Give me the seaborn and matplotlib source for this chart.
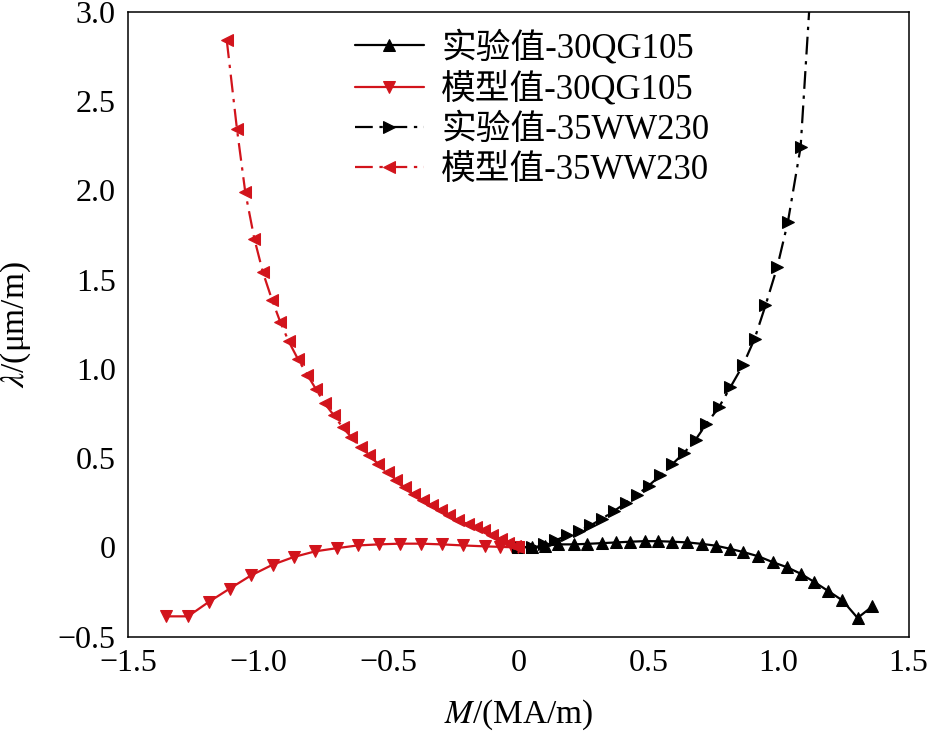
import numpy as np
import pandas as pd
import matplotlib
matplotlib.use('Agg')
import matplotlib.pyplot as plt
import seaborn as sns

# --- data
# experiment, 30QG105 (black, up triangles, solid)
exp_qg_x = [0.0, 0.053, 0.104, 0.154, 0.212, 0.265, 0.323, 0.377, 0.431, 0.485, 0.538,
            0.592, 0.650, 0.704, 0.758, 0.812, 0.865, 0.923, 0.977, 1.031, 1.085, 1.138,
            1.192, 1.246, 1.304, 1.361]
exp_qg_y = [0.0, 0.002, 0.010, 0.017, 0.017, 0.020, 0.024, 0.028, 0.032, 0.035, 0.035,
            0.032, 0.028, 0.020, 0.010, -0.007, -0.026, -0.050, -0.082, -0.110, -0.147, -0.194,
            -0.245, -0.297, -0.395, -0.330]

# model, 30QG105 (red, down triangles, solid)
mod_qg_x = [-1.354, -1.270, -1.191, -1.110, -1.028, -0.945, -0.864, -0.781, -0.697, -0.618,
            -0.537, -0.456, -0.373, -0.294, -0.211, -0.130, -0.070, -0.025, 0.0]
mod_qg_y = [-0.386, -0.386, -0.306, -0.231, -0.157, -0.097, -0.054, -0.022, -0.004, 0.011,
            0.017, 0.021, 0.021, 0.017, 0.011, 0.006, 0.003, 0.001, 0.0]

# experiment, 35WW230 (black, right triangles, dash-dot); last point is where the line leaves the frame
exp_ww_x = [0.0, 0.053, 0.097, 0.142, 0.187, 0.232, 0.277, 0.322, 0.367, 0.412, 0.457, 0.501,
            0.546, 0.591, 0.636, 0.681, 0.723, 0.771, 0.815, 0.863, 0.908, 0.950, 0.995, 1.036,
            1.085, 1.122]
exp_ww_y = [0.0, 0.004, 0.017, 0.039, 0.067, 0.091, 0.123, 0.161, 0.203, 0.248, 0.295, 0.346,
            0.403, 0.465, 0.528, 0.603, 0.692, 0.785, 0.897, 1.019, 1.168, 1.355, 1.570, 1.822,
            2.242, 3.10]

# model, 35WW230 (red, left triangles, dash-dot)
mod_ww_x = [-1.121, -1.082, -1.050, -1.015, -0.982, -0.947, -0.915, -0.883, -0.848, -0.812,
            -0.779, -0.745, -0.709, -0.676, -0.642, -0.606, -0.574, -0.539, -0.503, -0.471,
            -0.437, -0.401, -0.368, -0.334, -0.298, -0.266, -0.234, -0.195, -0.163, -0.131,
            -0.100, -0.068, -0.038, -0.012, 0.0]
mod_ww_y = [2.839, 2.344, 1.990, 1.728, 1.540, 1.386, 1.261, 1.154, 1.056, 0.968,
            0.888, 0.807, 0.739, 0.673, 0.617, 0.561, 0.515, 0.468, 0.421, 0.375,
            0.337, 0.300, 0.263, 0.235, 0.207, 0.179, 0.151, 0.132, 0.114, 0.095,
            0.070, 0.045, 0.022, 0.006, 0.0]

labels = ['实验值-30QG105', '模型值-30QG105', '实验值-35WW230', '模型值-35WW230']
x_ticks = [-1.5, -1.0, -0.5, 0, 0.5, 1.0, 1.5]
y_ticks = [-0.5, 0, 0.5, 1.0, 1.5, 2.0, 2.5, 3.0]

RED = '#d2141c'
BLACK = '#000000'
dashdot = (0, (8, 3, 1.5, 3))

sns.set_theme(style='white')
plt.rcParams['font.family'] = ['Liberation Serif', 'Noto Sans CJK SC']
plt.rcParams['mathtext.fontset'] = 'stix'
plt.rcParams['axes.unicode_minus'] = True

fig, ax = plt.subplots(figsize=(9.29, 7.31), dpi=100)
fig.subplots_adjust(left=0.138, right=0.978, bottom=0.129, top=0.984)

series = [
    (exp_qg_x, exp_qg_y, BLACK, '^', '-', 8.5, labels[0]),
    (mod_qg_x, mod_qg_y, RED, 'v', '-', 9, labels[1]),
    (exp_ww_x, exp_ww_y, BLACK, '>', dashdot, 8, labels[2]),
    (mod_ww_x, mod_ww_y, RED, '<', dashdot, 8, labels[3]),
]

for xs, ys, col, mk, ls, ms, lab in series:
    df = pd.DataFrame({'M': xs, 'lam': ys})
    n = len(df)
    # no marker on the clipped line end of the 35WW230 experiment
    every = list(range(n - 1)) if lab == labels[2] else None
    sns.lineplot(data=df, x='M', y='lam', ax=ax, sort=False, estimator=None,
                 color=col, linestyle=ls, linewidth=1.6, marker=mk, markersize=ms,
                 markeredgecolor=col, markerfacecolor=col, markevery=every, label=lab)

ax.set_xlim(-1.5, 1.5)
ax.set_ylim(-0.5, 3.0)
ax.set_xticks(x_ticks)
ax.set_yticks(y_ticks)

def fmt(v):
    if v == 0:
        return '0'
    return f'{v:.1f}'.replace('-', '\u2212')

ax.set_xticklabels([fmt(v) for v in x_ticks])
ax.set_yticklabels([fmt(v) for v in y_ticks])
ax.tick_params(direction='in', length=10.5, width=1.0, labelsize=23, colors='black',
               pad=9, top=False, right=False)
for sp in ax.spines.values():
    sp.set_color('black')
    sp.set_linewidth(1.1)

ax.set_xlabel('$M$/(MA/m)', fontsize=24, color='black', labelpad=14)
ax.set_ylabel('$\\lambda$/(μm/m)', fontsize=24, color='black', labelpad=18)

leg = ax.legend(loc='upper left', bbox_to_anchor=(0.29, 0.97), frameon=False,
                fontsize=25, handlelength=2.0, handletextpad=0.5, labelspacing=0.2,
                borderaxespad=0, borderpad=0)
for t in leg.get_texts():
    t.set_color('black')

fig.savefig('out.png', dpi=100)
